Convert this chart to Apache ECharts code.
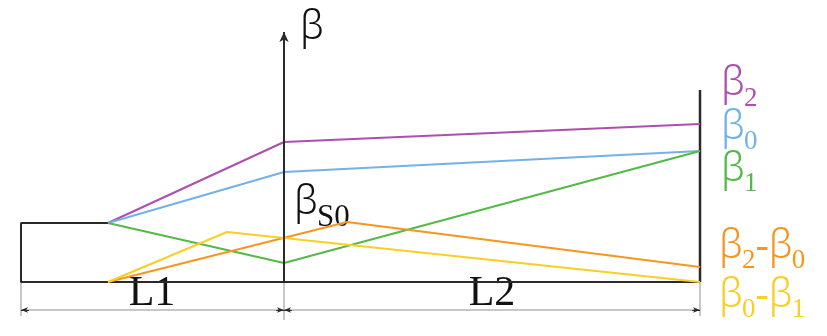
<!DOCTYPE html>
<html><head><meta charset="utf-8">
<script src="https://cdn.jsdelivr.net/npm/echarts@6/dist/echarts.min.js"></script>
<style>html,body{margin:0;padding:0;background:#fff}#c{width:827px;height:336px}</style>
</head><body><div id="c"></div>
<script>
// ---- data (x: distance along member, y: value of β above the baseline) ----
const beta2      = [[87, 59], [263, 140], [679, 158]];
const beta0      = [[87, 59], [263, 110], [679, 131]];
const beta1      = [[87, 59], [263, 19],  [679, 131]];
const beta2m0    = [[87, 0],  [326, 60],  [679, 15]];
const beta0m1    = [[87, 0],  [206, 50],  [679, 0]];
const outline    = [[87, 59], [0, 59], [0, 0], [679, 0]];
const rightEdge  = [[679, 0], [679, 192]];
const axisLine   = [[263, 0], [263, 250]];
const ext0 = [[0, 0], [0, -34]];
const ext1 = [[263, 0], [263, -38]];
const ext2 = [[679, 0], [679, -34]];
const dimLine = [[0, -28], [679, -28]];
const dimArrows = [[[8, -28], [0, -28]], [[255, -28], [263, -28]], [[271, -28], [263, -28]], [[671, -28], [679, -28]]];
const spanLabels = ['L1', 'L2'];

const COL = { b2: '#ad4fae', b0: '#72b2e8', b1: '#54b947', b20: '#f7961f', b01: '#f8cf22', k: '#2a2a2a', g: '#b5b5b5' };
const SERIF = '"Liberation Serif"';
const SANS = '"Noto Sans", "DejaVu Sans"';
const BIG = 40;

const ctx = document.createElement('canvas').getContext('2d');
function fontOf(t, size) { return t === 'β' ? ('300 ' + size + 'px ' + SANS) : (size + 'px ' + SERIF); }
function tw(t, size) { ctx.font = fontOf(t, size); return ctx.measureText(t).width; }
function label(x, yc, parts, color, subSize, subDy) {
  const els = []; let cx = x;
  parts.forEach(([t, sub]) => {
    const size = sub ? subSize : BIG;
    els.push({ type: 'text', x: cx, y: sub ? yc + subDy : yc - 2, silent: true,
      style: { text: t, font: fontOf(t, size), fill: color, align: 'left', verticalAlign: 'middle' } });
    cx += tw(t, size) - (t === 'β' ? 1 : 0);
  });
  return els;
}

function lineS(data, color, width) {
  return { type: 'line', data, symbol: 'none', silent: true, animation: false,
    lineStyle: { color, width }, z: 3 };
}

const series = [
  lineS(ext0, COL.g, 1.5), lineS(ext1, COL.g, 1.5), lineS(ext2, COL.g, 1.5), lineS(dimLine, COL.g, 1.5),
  lineS(outline, COL.k, 2), lineS(rightEdge, COL.k, 2.5),
  lineS(beta2, COL.b2, 2), lineS(beta0, COL.b0, 2), lineS(beta1, COL.b1, 2),
  lineS(beta2m0, COL.b20, 2), lineS(beta0m1, COL.b01, 2),
  { type: 'line', data: [], symbol: 'none', silent: true, animation: false,
    markLine: { silent: true, animation: false, symbol: ['none', 'arrow'], symbolSize: [7, 10],
      label: { show: false }, lineStyle: { color: COL.k, width: 2, type: 'solid' },
      data: [[{ coord: axisLine[0] }, { coord: axisLine[1] }]] } },
  { type: 'line', data: [], symbol: 'none', silent: true, animation: false,
    markLine: { silent: true, animation: false, symbol: ['none', 'arrow'], symbolSize: [4, 7],
      label: { show: false }, lineStyle: { color: COL.k, width: 1, type: 'solid' },
      data: dimArrows.map(a => [{ coord: a[0] }, { coord: a[1] }]) } }
];

const graphic = [].concat(
  label(300, 30, [['β', 0]], '#111', 27, 13),
  label(294, 205, [['β', 0], ['S0', 1]], '#111', 31, 13),
  label(721, 86, [['β', 0], ['2', 1]], COL.b2, 27, 13),
  label(721, 130, [['β', 0], ['0', 1]], COL.b0, 27, 12),
  label(721, 172, [['β', 0], ['1', 1]], COL.b1, 27, 12),
  label(719, 249, [['β', 0], ['2', 1], ['-', 0], ['β', 0], ['0', 1]], COL.b20, 27, 12),
  label(719, 298, [['β', 0], ['0', 1], ['-', 0], ['β', 0], ['1', 1]], COL.b01, 27, 12),
  [{ type: 'text', x: 152, y: 294, silent: true, style: { text: spanLabels[0], font: '42px ' + SERIF, fill: '#111', align: 'center', verticalAlign: 'middle' } },
   { type: 'text', x: 492, y: 294, silent: true, style: { text: spanLabels[1], font: '42px ' + SERIF, fill: '#111', align: 'center', verticalAlign: 'middle' } }]
);

const chart = echarts.init(document.getElementById('c'), null, { renderer: 'canvas' });
chart.setOption({
  backgroundColor: '#fff',
  animation: false,
  grid: { left: 21, right: 127, top: 32, bottom: 0 },
  xAxis: { type: 'value', min: 0, max: 679, show: false },
  yAxis: { type: 'value', min: -54, max: 250, show: false },
  series,
  graphic
});
</script></body></html>
